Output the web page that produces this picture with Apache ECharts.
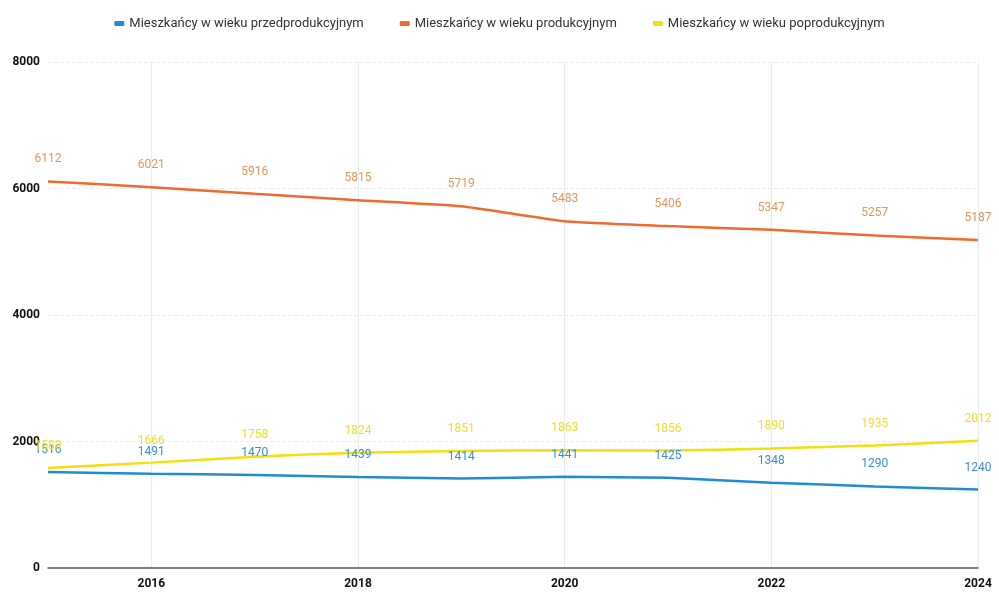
<!DOCTYPE html>
<html>
<head>
<meta charset="utf-8">
<script src="https://cdn.jsdelivr.net/npm/echarts@6/dist/echarts.min.js"></script>
<style>
  html, body { margin: 0; padding: 0; background: #fff; }
  #chart { width: 999px; height: 592px; }
</style>
</head>
<body>
<div id="chart"></div>
<script>
// lata i wartości
const years = ['2015', '2016', '2017', '2018', '2019', '2020', '2021', '2022', '2023', '2024'];
const przedprodukcyjny = [1516, 1491, 1470, 1439, 1414, 1441, 1425, 1348, 1290, 1240];
const produkcyjny = [6112, 6021, 5916, 5815, 5719, 5483, 5406, 5347, 5257, 5187];
const poprodukcyjny = [1580, 1666, 1758, 1824, 1851, 1863, 1856, 1890, 1935, 2012];
const yTicks = [0, 2000, 4000, 6000, 8000];

const chart = echarts.init(document.getElementById('chart'));

const makeSeries = (name, data, lineColor, labelColor) => ({
  name,
  type: 'line',
  data,
  symbol: 'circle',
  symbolSize: 0,
  smooth: 0.15,
  lineStyle: { color: lineColor, width: 2.5 },
  itemStyle: { color: lineColor },
  label: {
    show: true,
    position: 'top',
    distance: 16,
    color: labelColor,
    fontSize: 12,
    fontFamily: 'Roboto'
  }
});

chart.setOption({
  animation: false,
  legend: {
    top: 12,
    left: 'center',
    itemWidth: 10,
    itemHeight: 5,
    itemGap: 36,
    icon: 'roundRect',
    textStyle: { fontSize: 13, color: '#333', fontFamily: 'Roboto' }
  },
  grid: { left: 48, right: 21, top: 62, bottom: 24 },
  xAxis: {
    type: 'category',
    data: years,
    boundaryGap: false,
    axisLine: { lineStyle: { color: '#555', width: 1.5 } },
    axisTick: { show: false },
    axisLabel: {
      interval: (i) => i % 2 === 1,
      color: '#111',
      fontWeight: 'bold',
      fontSize: 12,
      margin: 10,
      fontFamily: 'Roboto'
    },
    splitLine: {
      show: true,
      interval: (i) => i % 2 === 1,
      lineStyle: { color: '#ebebeb' }
    }
  },
  yAxis: {
    type: 'value',
    min: yTicks[0],
    max: yTicks[yTicks.length - 1],
    interval: 2000,
    axisLine: { show: false },
    axisTick: { show: false },
    axisLabel: {
      formatter: (v) => String(v),
      color: '#111',
      fontWeight: 'bold',
      fontSize: 12,
      margin: 8,
      fontFamily: 'Roboto'
    },
    splitLine: { lineStyle: { color: '#ececec', type: 'dashed' } }
  },
  series: [
    makeSeries('Mieszkańcy w wieku przedprodukcyjnym', przedprodukcyjny, '#1f8dd6', '#3b8fd0'),
    makeSeries('Mieszkańcy w wieku produkcyjnym', produkcyjny, '#ef6a2e', '#e3955c'),
    makeSeries('Mieszkańcy w wieku poprodukcyjnym', poprodukcyjny, '#f3df10', '#f0dc2a')
  ]
});
</script>
</body>
</html>
